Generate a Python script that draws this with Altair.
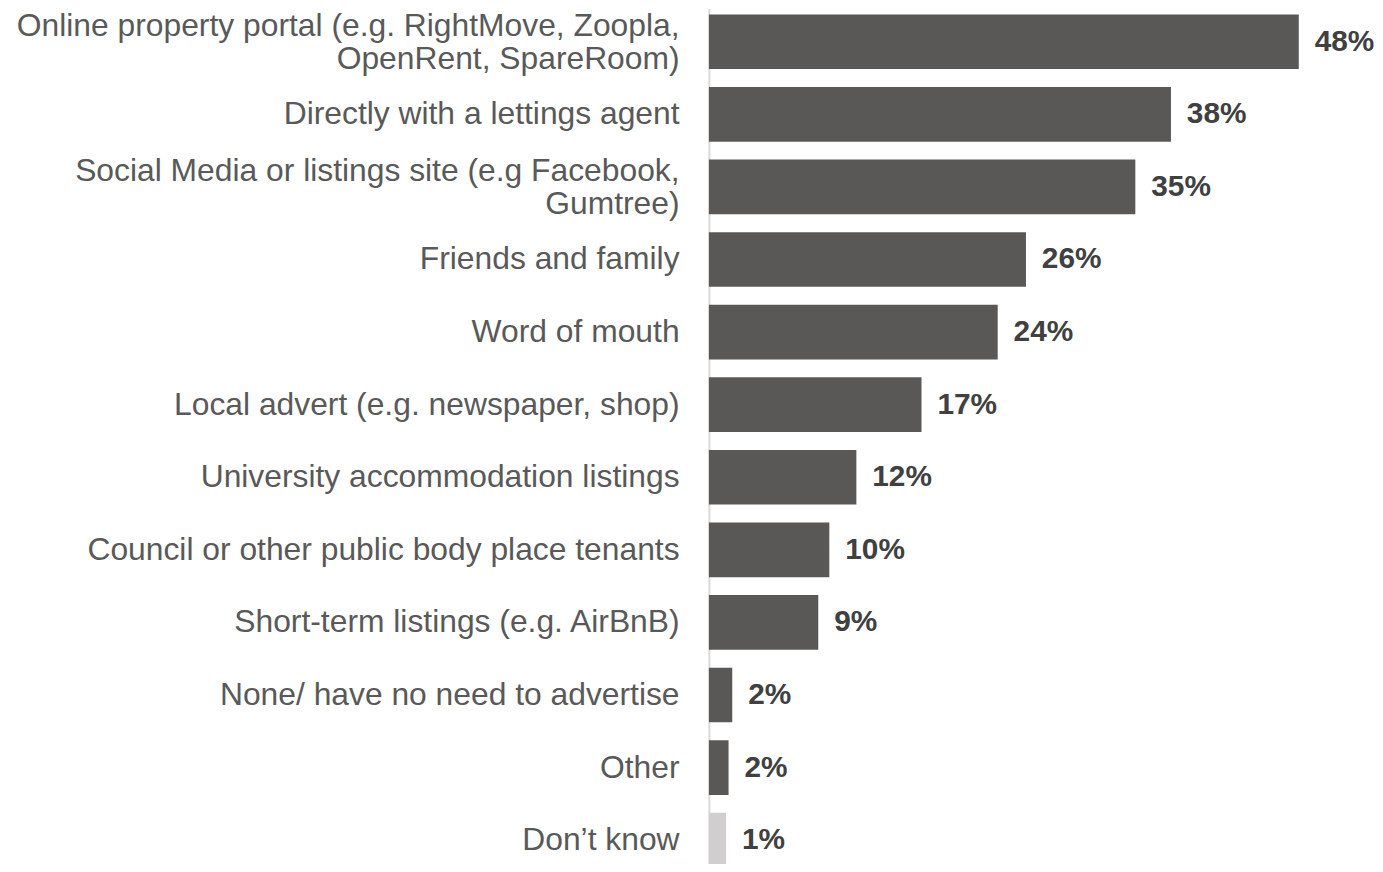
import altair as alt
import pandas as pd

categories = [
    "Online property portal (e.g. RightMove, Zoopla,|OpenRent, SpareRoom)",
    "Directly with a lettings agent",
    "Social Media or listings site (e.g Facebook,|Gumtree)",
    "Friends and family",
    "Word of mouth",
    "Local advert (e.g. newspaper, shop)",
    "University accommodation listings",
    "Council or other public body place tenants\u00a0",
    "Short-term listings (e.g. AirBnB)",
    "None/ have no need to advertise",
    "Other",
    "Don\u2019t know",
]
values = [48.0, 37.6, 34.7, 25.8, 23.5, 17.3, 12.0, 9.8, 8.9, 1.9, 1.6, 1.4]
value_labels = ["48%", "38%", "35%", "26%", "24%", "17%", "12%", "10%", "9%", "2%", "2%", "1%"]
groups = ["main"] * 11 + ["dk"]

df = pd.DataFrame({"cat": categories, "val": values, "lab": value_labels, "grp": groups})

y_enc = alt.Y(
    "cat:N",
    sort=categories,
    scale=alt.Scale(paddingInner=0.247, paddingOuter=0.082),
    axis=alt.Axis(
        title=None,
        labelExpr="split(datum.label, '|')",
        labelFont="Liberation Sans",
        labelFontSize=32,
        labelLineHeight=33,
        labelColor="#595959",
        labelPadding=30,
        labelLimit=800,
        labelOffset={"condition": {"test": "indexof(datum.value, '|') >= 0", "value": -16}, "value": 0},
        ticks=False,
        domainColor="#d9d9d9",
        domainWidth=2,
        grid=False,
    ),
)
x_scale = alt.Scale(domain=[0, 48.54], nice=False, zero=True)

bars = alt.Chart(df).mark_bar().encode(
    y=y_enc,
    x=alt.X("val:Q", scale=x_scale, axis=None),
    color=alt.Color(
        "grp:N",
        scale=alt.Scale(domain=["main", "dk"], range=["#5a5857", "#d0cece"]),
        legend=None,
    ),
)

texts = alt.Chart(df).mark_text(
    align="left",
    baseline="middle",
    dx=16,
    font="Liberation Sans",
    fontSize=30,
    fontWeight="bold",
    color="#404040",
).encode(
    y=alt.Y("cat:N", sort=categories),
    x=alt.X("val:Q", scale=x_scale),
    text="lab:N",
)

chart = (
    alt.layer(bars, texts)
    .properties(
        width=600,
        height=870,
        autosize=alt.AutoSizeParams(type="none"),
        padding={"left": 705, "top": -2, "right": 70, "bottom": -12},
    )
    .configure_view(stroke=None)
)

chart.save("out.html", embed_options={"renderer": "svg", "actions": False})
